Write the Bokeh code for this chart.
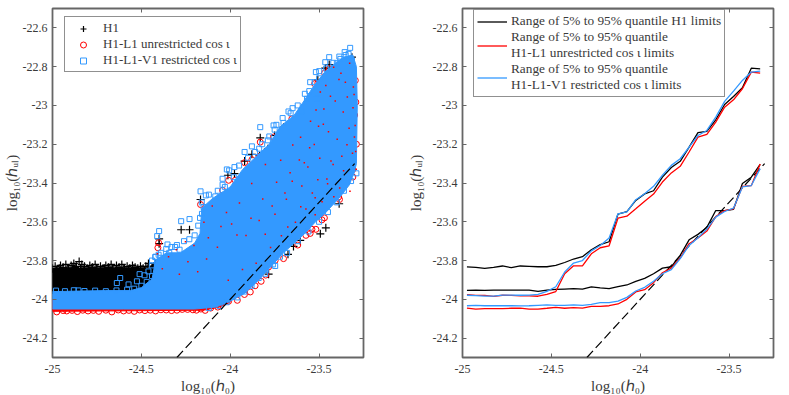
from bokeh.plotting import figure
from bokeh.layouts import row
from bokeh.models import Legend, LegendItem, LinearAxis, FixedTicker
from bokeh.embed import file_html
from bokeh.resources import INLINE

# ---- tick values / labels
x_ticks = [-25, -24.5, -24, -23.5]
x_tick_labels = ["-25", "-24.5", "-24", "-23.5"]
y_ticks = [-24.2, -24, -23.8, -23.6, -23.4, -23.2, -23, -22.8, -22.6]
y_tick_labels = ["-24.2", "-24", "-23.8", "-23.6", "-23.4", "-23.2", "-23", "-22.8", "-22.6"]

# ---- reference line
ref_x = [-24.3, -23.3]
ref_y = [-24.3, -23.3]

# ---- left panel: individually readable points
h1_x = [-23.443, -23.465, -23.507, -23.55, -23.587, -23.7, -23.831, -23.75, -23.788, -23.878, -23.919, -23.835,
        -24.013, -23.976, -23.315, -24.167, -24.276, -24.229, -24.4, -24.4, -23.784, -23.644, -23.606, -23.493,
        -23.462, -23.387, -23.675, -23.737,
        -25.0, -24.985, -24.97, -24.955, -24.94, -24.925, -24.91, -24.895, -24.88, -24.865, -24.85, -24.835,
        -24.82, -24.805, -24.79, -24.775, -24.76, -24.745, -24.73, -24.715, -24.7, -24.685, -24.67, -24.655,
        -24.64, -24.625, -24.61, -24.595, -24.58, -24.565, -24.55, -24.535, -24.52, -24.505, -24.49, -24.475, -24.46,
        -24.992, -24.977, -24.962, -24.947, -24.932, -24.917, -24.902, -24.887, -24.872, -24.857, -24.842, -24.827,
        -24.812, -24.797, -24.782, -24.767, -24.752, -24.737, -24.722, -24.707, -24.692, -24.677, -24.662, -24.647,
        -24.632, -24.617, -24.602, -24.587, -24.572, -24.557, -24.542, -24.527, -24.512, -24.497, -24.482, -24.467]
h1_y = [-22.789, -22.808, -22.868, -22.971, -23.074, -23.112, -23.167, -23.155, -23.223, -23.252, -23.287, -23.259,
        -23.36, -23.352, -22.751, -23.485, -23.641, -23.641, -23.688, -23.713, -23.87, -23.727, -23.696, -23.662,
        -23.631, -23.507, -23.768, -23.773,
        -23.84, -23.83, -23.845, -23.825, -23.835, -23.82, -23.84, -23.825, -23.815, -23.83, -23.805, -23.82,
        -23.83, -23.84, -23.825, -23.835, -23.82, -23.84, -23.83, -23.84, -23.825, -23.835, -23.82, -23.84,
        -23.825, -23.835, -23.82, -23.84, -23.83, -23.84, -23.825, -23.835, -23.84, -23.83, -23.84, -23.83, -23.815,
        -23.86, -23.85, -23.84, -23.85, -23.855, -23.84, -23.85, -23.84, -23.835, -23.85, -23.84, -23.845,
        -23.85, -23.845, -23.84, -23.85, -23.84, -23.855, -23.845, -23.84, -23.85, -23.845, -23.84, -23.85,
        -23.845, -23.85, -23.84, -23.85, -23.845, -23.85, -23.84, -23.85, -23.855, -23.845, -23.85, -23.84]

h1l1_x = [-23.443, -23.469, -23.507, -23.525, -23.553, -23.653, -23.756, -23.831, -23.788, -23.837, -23.878, -23.919,
          -24.009, -23.972, -24.043, -23.31, -23.293, -23.296, -23.39, -23.512, -24.167, -24.407, -24.403, -23.826,
          -23.887, -24.009, -23.574, -23.54, -23.518, -23.484, -23.385, -23.747, -23.784, -24.141,
          -24.976, -24.94, -24.92, -24.89, -24.86, -24.83, -24.8, -24.77, -24.74, -24.7, -24.666, -24.63, -24.6, -24.57,
          -24.54, -24.51, -24.48, -24.45, -24.42, -24.39, -24.36, -24.33, -24.3, -24.27, -24.24, -24.21, -24.19, -24.165,
          -24.11, -24.07, -23.96, -23.92, -23.86, -23.8, -23.7, -23.62, -23.55, -23.47, -23.31, -23.29, -23.3]
h1l1_y = [-22.811, -22.833, -22.885, -22.888, -23.0, -23.069, -23.163, -23.189, -23.232, -23.263, -23.28, -23.295,
          -23.386, -23.386, -23.438, -23.369, -22.983, -22.871, -23.472, -23.455, -23.511, -23.734, -23.708, -23.907,
          -23.962, -24.01, -23.67, -23.639, -23.639, -23.59, -23.485, -23.799, -23.833, -24.057,
          -24.065, -24.058, -24.06, -24.057, -24.063, -24.056, -24.06, -24.057, -24.062, -24.056, -24.065, -24.055, -24.06, -24.057,
          -24.062, -24.055, -24.058, -24.056, -24.06, -24.054, -24.055, -24.058, -24.056, -24.052, -24.052, -24.054, -24.056, -24.05,
          -24.045, -24.04, -24.005, -23.975, -23.93, -23.875, -23.79, -23.72, -23.66, -23.58, -23.33, -23.2, -23.05]

h1l1v1_x = [-23.325, -23.356, -23.334, -23.386, -23.315, -23.443, -23.465, -23.4, -23.518, -23.499, -23.525, -23.555,
            -23.568, -23.512, -23.649, -23.672, -23.705, -23.6, -23.831, -23.756, -23.75, -23.788, -23.919, -23.878,
            -23.837, -23.976, -24.019, -24.043, -24.006, -24.043, -24.167, -24.137, -24.084, -24.276, -24.229, -24.4,
            -24.411, -24.353, -24.31, -24.285, -24.343, -24.422, -24.403, -24.51, -24.619, -24.638, -24.572, -24.525,
            -24.482, -24.46, -24.854, -24.441, -24.159, -24.15, -23.747, -23.803, -23.887,
            -24.44, -24.42, -24.39, -24.36, -24.33, -24.3, -24.26, -24.23, -24.2, -24.18, -24.17, -24.16, -24.12, -24.07,
            -24.03, -23.98, -23.95, -23.9, -23.86, -23.82, -23.78, -23.74, -23.7, -23.66, -23.62, -23.58, -23.55, -23.5,
            -23.46, -23.42, -23.38, -23.35,
            -24.12, -24.06, -24.02, -23.96, -23.92, -23.88, -23.84, -23.8, -23.76, -23.72, -23.68, -23.62, -23.56, -23.5,
            -23.45, -23.4, -23.36, -23.32, -23.29,
            -24.98, -24.93, -24.88, -24.82, -24.76, -24.7, -24.64, -24.58, -24.54, -24.5, -24.47, -24.44]
h1l1v1_y = [-22.703, -22.725, -22.734, -22.748, -22.768, -22.751, -22.777, -22.782, -22.828, -22.823, -22.88, -22.926,
            -22.966, -22.966, -23.014, -23.031, -23.065, -23.029, -23.112, -23.103, -23.125, -23.18, -23.24, -23.211,
            -23.223, -23.318, -23.33, -23.378, -23.335, -23.409, -23.443, -23.464, -23.469, -23.597, -23.586, -23.648,
            -23.674, -23.717, -23.73, -23.744, -23.76, -23.782, -23.77, -23.87, -23.89, -23.916, -23.923, -23.907,
            -23.876, -23.856, -23.954, -23.825, -23.559, -23.524, -23.828, -23.868, -23.919,
            -23.8, -23.78, -23.76, -23.74, -23.73, -23.72, -23.7, -23.69, -23.67, -23.62, -23.58, -23.5, -23.46, -23.44,
            -23.42, -23.37, -23.31, -23.27, -23.24, -23.2, -23.16, -23.1, -23.09, -23.04, -23.0, -22.94, -22.88, -22.86,
            -22.81, -22.78, -22.76, -22.74,
            -24.045, -24.035, -24.015, -23.99, -23.96, -23.93, -23.89, -23.85, -23.82, -23.78, -23.76, -23.7, -23.65, -23.6,
            -23.55, -23.5, -23.44, -23.39, -23.35,
            -23.955, -23.958, -23.953, -23.957, -23.955, -23.958, -23.954, -23.95, -23.945, -23.93, -23.91, -23.88]

# ---- left panel: outlines of the solidly overplotted masses
black_mass_x = [-25, -24.46, -24.42, -24.36, -24.36, -25]
black_mass_y = [-23.84, -23.84, -23.8, -23.8, -23.97, -23.97]
red_mass_x = [-25, -24.15, -24.06, -24.0, -24.0, -25]
red_mass_y = [-24.062, -24.056, -24.04, -24.015, -24.0, -24.0]
blue_mass_x = [-25, -24.7, -24.56, -24.5, -24.44, -24.42, -24.36, -24.28, -24.2, -24.17, -24.16, -24.1, -24.0, -23.93,
               -23.85, -23.78, -23.72, -23.64, -23.58, -23.53, -23.47, -23.42, -23.36, -23.31, -23.29, -23.285, -23.29,
               -23.3, -23.33, -23.38, -23.47, -23.52, -23.58, -23.7, -23.78, -23.85, -23.92, -24.0, -24.08, -24.2, -24.6, -25]
blue_mass_y = [-23.96, -23.955, -23.955, -23.94, -23.895, -23.8, -23.76, -23.76, -23.71, -23.66, -23.53, -23.48, -23.42, -23.33,
               -23.26, -23.2, -23.11, -23.05, -22.97, -22.9, -22.83, -22.79, -22.75, -22.74, -22.8, -23.0, -23.3,
               -23.34, -23.41, -23.47, -23.56, -23.6, -23.66, -23.76, -23.84, -23.91, -23.97, -24.01, -24.04, -24.05, -24.05, -24.05]

# red and dark specks showing through the hollow squares
speck_x = [-23.418, -23.377, -23.352, -23.328, -23.307, -23.297, -23.462, -23.436, -23.493, -23.517, -23.473, -23.409,
           -23.364, -23.331, -23.548, -23.503, -23.447, -23.398, -23.343, -23.312, -23.604, -23.553, -23.496, -23.421,
           -23.362, -23.648, -23.583, -23.507, -23.452, -23.384, -23.326, -23.716, -23.663, -23.597, -23.538, -23.483,
           -23.417, -23.802, -23.739, -23.684, -23.603, -23.522, -23.879, -23.817, -23.748, -23.676, -23.948, -23.883,
           -23.803, -24.021, -23.962, -24.101, -24.052, -24.148, -24.123, -24.204, -24.252, -24.303,
           -23.301, -23.294, -23.309, -23.303, -23.291, -23.388, -23.341, -23.372, -23.476, -23.433, -23.527, -23.456,
           -23.563, -23.611, -23.522, -23.651, -23.574, -23.692, -23.633, -23.764, -23.712, -23.837, -23.773, -23.911,
           -23.854, -23.992, -23.931, -24.072, -24.011, -24.133, -24.183, -24.238, -24.286, -24.347, -24.382, -24.41]
speck_y = [-22.803, -22.834, -22.881, -22.782, -22.905, -23.104, -22.897, -22.953, -22.931, -23.024, -23.018, -22.977,
           -23.034, -23.118, -23.081, -23.107, -23.136, -23.174, -23.203, -23.246, -23.164, -23.218, -23.272, -23.305,
           -23.337, -23.204, -23.296, -23.383, -23.404, -23.426, -23.442, -23.283, -23.347, -23.416, -23.452, -23.497,
           -23.471, -23.304, -23.396, -23.484, -23.523, -23.564, -23.402, -23.483, -23.561, -23.627, -23.503, -23.582,
           -23.664, -23.552, -23.668, -23.518, -23.624, -23.603, -23.682, -23.722, -23.703, -23.744,
           -23.163, -23.238, -23.012, -22.944, -23.329, -22.866, -22.957, -23.262, -23.097, -23.287, -23.201, -23.379,
           -23.318, -23.281, -23.476, -23.391, -23.534, -23.452, -23.603, -23.518, -23.672, -23.593, -23.733, -23.671,
           -23.814, -23.612, -23.846, -23.731, -23.902, -23.792, -23.858, -23.806, -23.871, -23.781, -23.842, -23.765]

# ---- right panel: quantile curves
q_x = [-24.975, -24.925, -24.875, -24.825, -24.775, -24.725, -24.675, -24.625, -24.575, -24.525, -24.475, -24.425,
       -24.375, -24.325, -24.275, -24.225, -24.175, -24.125, -24.075, -24.025, -23.975, -23.925, -23.875, -23.825,
       -23.775, -23.725, -23.675, -23.625, -23.575, -23.525, -23.475, -23.425, -23.375, -23.325]
h1_hi = [-23.833, -23.835, -23.84, -23.835, -23.828, -23.837, -23.828, -23.83, -23.832, -23.832, -23.825, -23.81,
         -23.792, -23.78, -23.744, -23.718, -23.703, -23.56, -23.548, -23.49, -23.456, -23.44, -23.37, -23.32,
         -23.288, -23.215, -23.14, -23.134, -23.074, -22.995, -22.954, -22.909, -22.808, -22.811]
h1l1_hi = [-23.976, -23.98, -23.98, -23.985, -23.979, -23.98, -23.982, -23.982, -23.984, -23.975, -23.96, -23.868,
           -23.827, -23.827, -23.765, -23.734, -23.724, -23.581, -23.571, -23.533, -23.494, -23.457, -23.395, -23.348,
           -23.314, -23.24, -23.163, -23.149, -23.086, -23.009, -22.971, -22.914, -22.828, -22.833]
h1l1v1_hi = [-23.979, -23.981, -23.983, -23.983, -23.978, -23.978, -23.979, -23.978, -23.974, -23.959, -23.935, -23.859,
             -23.813, -23.8, -23.75, -23.722, -23.684, -23.559, -23.549, -23.486, -23.455, -23.417, -23.36, -23.309,
             -23.275, -23.215, -23.155, -23.129, -23.06, -22.979, -22.926, -22.871, -22.828, -22.823]
h1_lo = [-23.954, -23.952, -23.954, -23.952, -23.952, -23.952, -23.952, -23.952, -23.959, -23.952, -23.949, -23.947,
         -23.945, -23.947, -23.936, -23.941, -23.945, -23.935, -23.926, -23.907, -23.892, -23.868, -23.839, -23.832,
         -23.773, -23.693, -23.665, -23.629, -23.542, -23.542, -23.536, -23.403, -23.37, -23.304]
h1l1_lo = [-24.045, -24.05, -24.048, -24.048, -24.048, -24.046, -24.045, -24.05, -24.05, -24.046, -24.041, -24.046,
           -24.043, -24.045, -24.036, -24.036, -24.033, -24.024, -24.0, -23.962, -23.95, -23.914, -23.863, -23.839,
           -23.787, -23.713, -23.684, -23.648, -23.573, -23.542, -23.533, -23.417, -23.414, -23.302]
h1l1v1_lo = [-24.033, -24.031, -24.033, -24.033, -24.033, -24.033, -24.034, -24.033, -24.031, -24.029, -24.031, -24.031,
             -24.029, -24.031, -24.026, -24.017, -24.017, -24.009, -23.99, -23.957, -23.938, -23.907, -23.868, -23.847,
             -23.79, -23.722, -23.682, -23.638, -23.576, -23.547, -23.53, -23.42, -23.413, -23.326]

# ---- labels
x_label = "log₁₀(ℎ₀)"
y_label = "log₁₀(ℎᵤₗ)"
left_legend = ["H1", "H1-L1 unrestricted cos ι", "H1-L1-V1 restricted cos ι"]
right_legend = ["Range of 5% to 95% quantile H1 limits",
                "Range of 5% to 95% quantile\nH1-L1 unrestricted cos ι limits",
                "Range of 5% to 95% quantile\nH1-L1-V1 restricted cos ι limits"]

BLACK, RED, BLUE = "#000000", "#ff0000", "#3399ff"
FONT = "Liberation Serif"
TEXT = "#3a3a3a"
FRAME = "#666666"


def make(border_left, border_right, label_standoff):
    p = figure(width=311 + border_left + border_right, height=392, frame_width=311, frame_height=349,
               x_range=(-25, -23.25), y_range=(-24.3, -22.5), output_backend="svg", toolbar_location=None,
               min_border_left=border_left, min_border_right=border_right, min_border_top=8, min_border_bottom=35,
               background_fill_color="white", outline_line_color=FRAME, outline_line_width=1.8)
    p.xgrid.visible = False
    p.ygrid.visible = False
    p.xaxis.axis_label = x_label
    p.yaxis.axis_label = y_label
    p.xaxis.ticker = FixedTicker(ticks=x_ticks)
    p.yaxis.ticker = FixedTicker(ticks=y_ticks)
    p.xaxis.major_label_overrides = dict(zip(x_ticks, x_tick_labels))
    p.yaxis.major_label_overrides = dict(zip(y_ticks, y_tick_labels))
    p.yaxis.axis_label_standoff = label_standoff
    p.xaxis.axis_label_standoff = 2
    for ax in (p.xaxis[0], p.yaxis[0]):
        ax.axis_line_color = None
        ax.major_tick_line_color = FRAME
        ax.major_tick_line_width = 1
        ax.major_tick_in = 4
        ax.major_tick_out = 0
        ax.minor_tick_line_color = None
        ax.major_label_standoff = 5
        ax.major_label_text_font = FONT
        ax.major_label_text_font_size = "12px"
        ax.major_label_text_color = TEXT
        ax.axis_label_text_font = FONT
        ax.axis_label_text_font_size = "15px"
        ax.axis_label_text_font_style = "normal"
        ax.axis_label_text_color = TEXT
    p.xaxis[0].major_label_standoff = 7
    top = LinearAxis(ticker=FixedTicker(ticks=x_ticks), major_label_text_font_size="0px", major_label_standoff=0,
                     major_label_overrides={t: "" for t in x_ticks},
                     axis_line_color=None, major_tick_line_color=FRAME, major_tick_in=4, major_tick_out=0,
                     minor_tick_line_color=None)
    right = LinearAxis(ticker=FixedTicker(ticks=y_ticks), major_label_text_font_size="0px", major_label_standoff=0,
                       major_label_overrides={t: "" for t in y_ticks},
                       axis_line_color=None, major_tick_line_color=FRAME, major_tick_in=4, major_tick_out=0,
                       minor_tick_line_color=None)
    p.add_layout(top, "above")
    p.add_layout(right, "right")
    return p


# ---------- left
p1 = make(46, 25, 0)
p1.patch(black_mass_x, black_mass_y, color=BLACK)
r_h1 = p1.scatter(h1_x, h1_y, marker="cross", size=8, line_color=BLACK, line_width=1.2)
p1.patch(red_mass_x, red_mass_y, color=RED)
r_l1 = p1.scatter(h1l1_x, h1l1_y, marker="circle", size=6, fill_color=None, line_color=RED, line_width=1)
p1.patch(blue_mass_x, blue_mass_y, color=BLUE)
r_v1 = p1.scatter(h1l1v1_x, h1l1v1_y, marker="square", size=5, fill_color=None, line_color=BLUE, line_width=1)
p1.scatter(speck_x, speck_y, marker="square", size=1.5, color=RED, line_width=0)
p1.line(ref_x, ref_y, line_color=BLACK, line_width=1.2, line_dash="9 4")
leg1 = Legend(items=[LegendItem(label=t, renderers=[r]) for t, r in zip(left_legend, [r_h1, r_l1, r_v1])],
              location=(12, 285), margin=0, padding=3, spacing=0, glyph_width=30, glyph_height=15, label_height=15,
              label_standoff=5, label_text_font=FONT, label_text_font_size="13px", label_text_color=TEXT,
              border_line_color="#222222", border_line_width=1, background_fill_alpha=1)
p1.add_layout(leg1, "center")

# ---------- right
p2 = make(74, 6, 6)
p2.line(ref_x, ref_y, line_color=BLACK, line_width=1.2, line_dash="9 4")
k = dict(line_width=1.3)
r_b = p2.line(q_x, h1_hi, line_color=BLACK, **k)
p2.line(q_x, h1_lo, line_color=BLACK, **k)
r_r = p2.line(q_x, h1l1_hi, line_color=RED, **k)
p2.line(q_x, h1l1_lo, line_color=RED, **k)
r_c = p2.line(q_x, h1l1v1_hi, line_color=BLUE, **k)
p2.line(q_x, h1l1v1_lo, line_color=BLUE, **k)
leg2 = Legend(items=[LegendItem(label=t, renderers=[r]) for t, r in zip(right_legend, [r_b, r_r, r_c])],
              location=(11, 260), margin=0, padding=3, spacing=0, glyph_width=30, glyph_height=15, label_height=15,
              label_standoff=4, label_text_font=FONT, label_text_font_size="13.3px", label_text_color=TEXT,
              border_line_color="#222222", border_line_width=1, background_fill_alpha=1)
p2.add_layout(leg2, "center")

layout = row(p1, p2, spacing=0)
open("out.html", "w").write(file_html(layout, INLINE))
